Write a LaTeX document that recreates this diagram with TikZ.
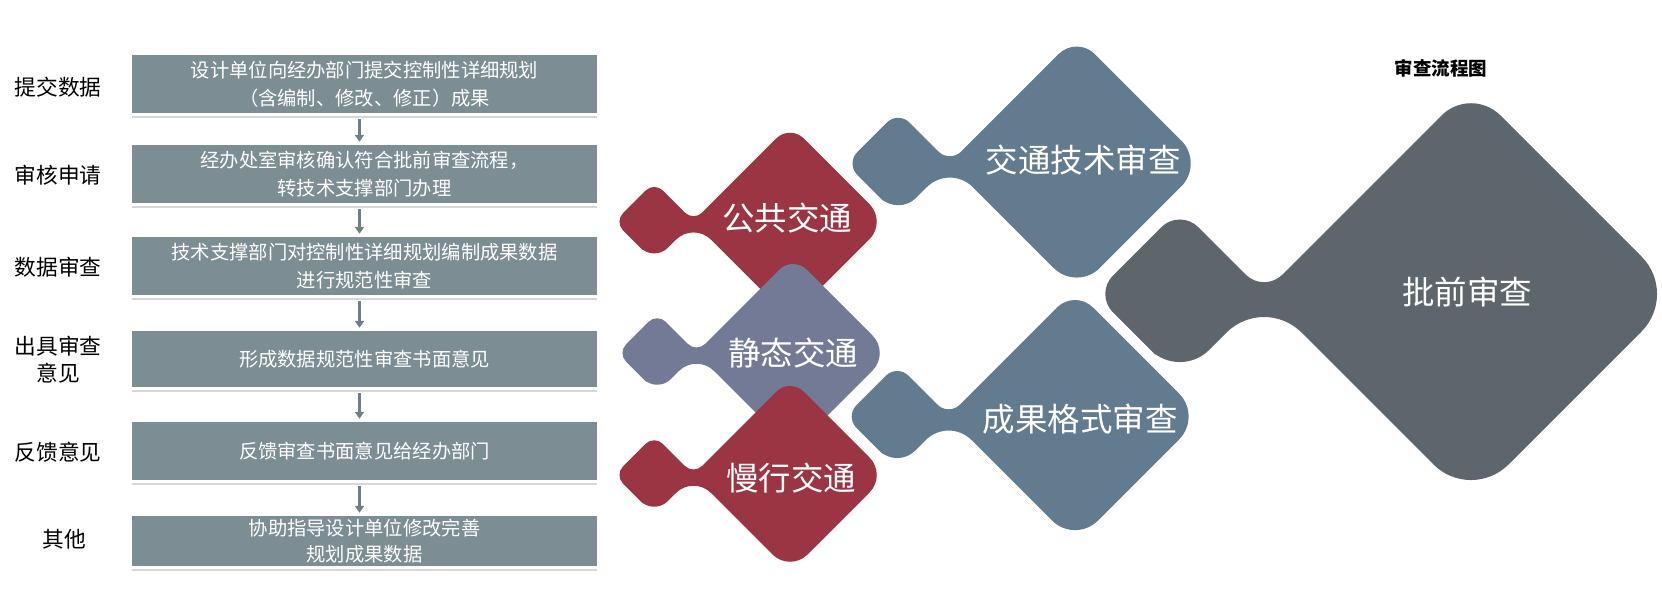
\documentclass[tikz,border=0pt]{standalone}
\usepackage{fontspec}
\setmainfont{Noto Sans CJK SC}
\usetikzlibrary{arrows.meta, positioning}

\definecolor{boxgray}{RGB}{124,141,147}
\definecolor{arrowgray}{RGB}{110,128,135}
\definecolor{shadegray}{RGB}{212,216,218}
\definecolor{trafficred}{RGB}{155,52,67}
\definecolor{staticpurple}{RGB}{114,122,150}
\definecolor{reviewblue}{RGB}{99,123,142}
\definecolor{slategray}{RGB}{93,101,109}

\newcommand{\boxfont}{\fontsize{19.3pt}{28.3pt}\selectfont}
\newcommand{\labfont}{\fontsize{21.7pt}{26.7pt}\selectfont}
\newcommand{\bigfont}{\fontsize{32.5pt}{36pt}\selectfont}
\newcommand{\titlefont}{\fontsize{18.5pt}{20pt}\selectfont\bfseries}

\tikzset{
  stepbox/.style={fill=boxgray, text=white, minimum width=465pt, minimum height=58pt, inner sep=0pt, align=center, font=\boxfont},
  steplabel/.style={align=center, font=\labfont, inner sep=0pt},
  flowarrow/.style={arrowgray, line width=2.4pt, -{Triangle[length=7pt,width=9pt]}},
  shade/.style={shadegray, line width=2pt},
  bigtext/.style={text=white, font=\bigfont, inner sep=0pt},
}

\begin{document}
\begin{tikzpicture}[x=1pt, y=-1pt]
\useasboundingbox (0,0) rectangle (1662,589);

% left column: steps
\node[stepbox] (submit) at (364.5,84) {设计单位向经办部门提交控制性详细规划\\（含编制、修改、修正）成果};
\node[stepbox] (apply) at (364.5,174) {经办处室审核确认符合批前审查流程，\\转技术支撑部门办理};
\node[stepbox] (check) at (364.5,266) {技术支撑部门对控制性详细规划编制成果数据\\进行规范性审查};
\node[stepbox, minimum height=56pt] (opinion) at (364.5,359) {形成数据规范性审查书面意见};
\node[stepbox] (feedback) at (364.5,451) {反馈审查书面意见给经办部门};
\node[stepbox, minimum height=50pt, font=\fontsize{19.3pt}{26.7pt}\selectfont] (other) at (364.5,541) {协助指导设计单位修改完善\\规划成果数据};

\node[steplabel] (lsubmit) at (58,87) {提交数据};
\node[steplabel] (lapply) at (58,175) {审核申请};
\node[steplabel] (lcheck) at (58,267) {数据审查};
\node[steplabel] (lopinion) at (58,360) {出具审查\\意见};
\node[steplabel] (lfeedback) at (58,452) {反馈意见};
\node[steplabel] (lother) at (64,539) {其他};

\foreach \b in {submit, apply, check, opinion, feedback, other}
  \draw[shade] ([yshift=-4pt]\b.south west) -- ([yshift=-4pt]\b.south east);

\foreach \a/\b in {submit/apply, apply/check, check/opinion, opinion/feedback, feedback/other}
  \draw[flowarrow] ([xshift=-5pt,yshift=-6pt]\a.south) -- ([xshift=-5pt,yshift=3pt]\b.north);

% right part: double diamonds
\foreach \cx/\cy/\sz/\col in {1076.7/163.5/127.5/reviewblue, 1075/416.5/127/reviewblue, 1471/294/208/slategray, 790/221.7/97/trafficred, 793/353/97/staticpurple, 790/475/97/trafficred}{
  \pgfmathsetmacro{\sx}{\cx-1.40*\sz}
  \pgfmathsetmacro{\sr}{0.41*\sz}
  \pgfmathsetmacro{\nx}{\cx-0.995*\sz}
  \pgfmathsetmacro{\nh}{0.005*\sz}
  \pgfmathsetmacro{\rs}{0.125*\sz}
  \pgfmathsetmacro{\rn}{0.2*\sz}
  \pgfmathsetmacro{\rb}{0.255*\sz}
  \fill[fill=\col, rounded corners=\rs pt] ({\sx-0.5*\sr},{\cy+0.5*\sr}) -- ({\sx-\sr},\cy) -- (\sx,{\cy-\sr}) -- (\nx,{\cy-\nh}) [rounded corners=\rn pt] -- (\cx,{\cy-\sz}) [rounded corners=\rb pt] -- ({\cx+\sz},\cy) -- (\cx,{\cy+\sz}) -- (\nx,{\cy+\nh}) [rounded corners=\rn pt] -- (\sx,{\cy+\sr}) [rounded corners=\rs pt] -- cycle;
}

\node[bigtext] (pubtext) at (787,218) {公共交通};
\node[bigtext] (stattext) at (793,353) {静态交通};
\node[bigtext] (slowtext) at (791,478) {慢行交通};
\node[bigtext] (techtext) at (1083,160) {交通技术审查};
\node[bigtext] (formtext) at (1080,419) {成果格式审查};
\node[bigtext] (approvetext) at (1467,292) {批前审查};
\node[font=\titlefont, inner sep=0pt] (title) at (1441,68) {审查流程图};
\end{tikzpicture}
\end{document}
